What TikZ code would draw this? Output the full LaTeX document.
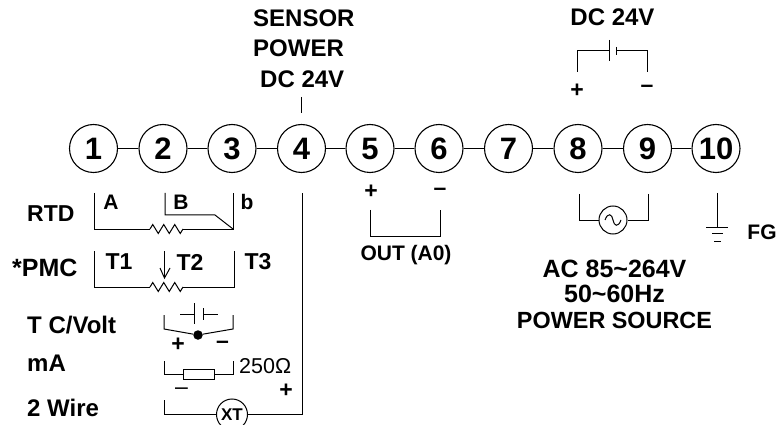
\documentclass[tikz,border=0pt]{standalone}
\usepackage{fontspec}
\setmainfont{Liberation Sans}
\usetikzlibrary{positioning,decorations.pathmorphing}
\tikzset{
  lbl/.style={font=\fontsize{24}{26}\selectfont\bfseries,inner sep=0pt},
  tag/.style={font=\fontsize{21}{23}\selectfont\bfseries,inner sep=0pt},
  sign/.style={font=\fontsize{23}{25}\selectfont\bfseries,inner sep=0pt},
  term/.style={draw,circle,minimum size=48pt,inner sep=0pt,line width=1.1pt,font=\fontsize{31}{33}\selectfont\bfseries},
  wire/.style={line width=1pt},
  zig/.style={wire,decorate,decoration={zigzag,segment length=11pt,amplitude=4.5pt}}
}
\begin{document}
\begin{tikzpicture}[x=1pt,y=-1pt]
    \useasboundingbox (0,0) rectangle (777,425);
    % terminals
    \foreach \n/\x in {1/93.5,2/163,3/232,4/301.5,5/370,6/439,7/508.5,8/578,9/647.5,10/716} {
        \node [term] (t\n) at (\x,148.5) {\n};
    }
    \foreach \a/\b in {1/2,2/3,3/4,4/5,5/6,6/7,7/8,8/9,9/10} {
        \draw [wire] (t\a) -- (t\b);
    }
    % sensor power
    \node [lbl,anchor=west] (sn) at (253,18) {SENSOR};
    \node [lbl,anchor=west] (pw) at (253,48) {POWER};
    \node [lbl,anchor=west] (dc) at (260,79) {DC 24V};
    \coordinate (pu) at (301,97);
    \coordinate (pd) at (301,113);
    \draw [wire] (pu) -- (pd);
    % dc supply
    \node [lbl] (dcb) at (612.5,17) {DC 24V};
    \coordinate (pa) at (577,72);
    \coordinate (pb) at (647,72);
    \coordinate (ba) at (609,51);
    \coordinate (bb) at (616,51);
    \draw [wire] (pa) |- (ba);
    \draw [wire] (pb) |- (bb);
    \draw [wire] (609,40) -- (609,61);
    \draw [wire] (616,47) -- (616,55);
    \node [sign] (pl8) at (577,91) {+};
    \node [sign] (mi9) at (647,89) {--};
    % rtd
    \node [lbl,font=\fontsize{23}{25}\selectfont\bfseries,anchor=west] (rtd) at (27,214) {RTD};
    \node [tag] (la) at (111,202) {A};
    \node [tag] (lb) at (181,202) {B};
    \node [tag] (lsb) at (247,202) {b};
    \coordinate (ra) at (94,193);
    \coordinate (rb) at (165,193);
    \coordinate (rc) at (233,193);
    \coordinate (rl) at (150,229);
    \coordinate (rr) at (183,229);
    \coordinate (rj) at (233,229);
    \draw [wire] (ra) |- (rl);
    \draw [zig] (rl) -- (rr);
    \draw [wire] (rr) -- (rj) -- (rc);
    \draw [wire] (rb) -- (165,215) -- (215,215) -- (rj);
    % pmc
    \node [lbl,font=\fontsize{25}{27}\selectfont\bfseries,anchor=west] (pmc) at (12,268) {*PMC};
    \node [lbl,font=\fontsize{23}{25}\selectfont\bfseries] (t1) at (119,262) {T1};
    \node [lbl,font=\fontsize{23}{25}\selectfont\bfseries] (t2) at (190,262) {T2};
    \node [lbl,font=\fontsize{23}{25}\selectfont\bfseries] (t3) at (258,262) {T3};
    \coordinate (pa1) at (94,251);
    \coordinate (pa3) at (234,251);
    \coordinate (pl) at (150,287);
    \coordinate (pr) at (183,287);
    \draw [wire] (pa1) |- (pl);
    \draw [zig] (pl) -- (pr);
    \draw [wire] (pr) -| (pa3);
    \draw [wire] (164.5,251) -- (164.5,278);
    \draw [wire] (160,268) -- (164.5,278) -- (170,268);
    % t c / volt
    \node [lbl,anchor=west] (tc) at (27,325) {T C/Volt};
    \coordinate (ca) at (164,315);
    \coordinate (cb) at (233,315);
    \node [fill,circle,inner sep=0pt,minimum size=9.5pt] (dot) at (198,335) {};
    \draw [wire] (ca) -- (164,329) -- (dot) -- (233,329) -- (cb);
    \draw [wire] (180,314) -- (194,314);
    \draw [wire] (194,303) -- (194,324);
    \draw [wire] (203,308) -- (203,320);
    \draw [wire] (203,314) -- (218,314);
    \node [sign] (cp) at (178,345) {+};
    \node [sign] (cm) at (222.5,345) {--};
    % ma
    \node [lbl,anchor=west] (ma) at (27,363) {mA};
    \node [draw,wire,minimum width=31pt,minimum height=10pt,inner sep=0pt] (rs) at (199,374) {};
    \draw [wire] (164,361) |- (rs);
    \draw [wire] (233,361) |- (rs);
    \node [font=\fontsize{21.5}{23}\selectfont,inner sep=0pt,anchor=west] (ohm) at (239,366) {250Ω};
    % 2 wire
    \node [lbl,anchor=west] (tw) at (27,408) {2 Wire};
    \node [sign,font=\fontsize{23}{25}\selectfont] (tm) at (181.5,391) {--};
    \node [sign] (tp) at (286,391) {+};
    \node [draw,circle,wire,minimum size=31pt,inner sep=0pt,fill=white,font=\fontsize{17}{19}\selectfont\bfseries] (xt) at (232,414.5) {XT};
    \draw [wire] (164,400) |- (xt);
    \draw [wire] (xt) -- (302,414.5) -- (302,193);
    % out
    \node [sign] (op) at (371,192) {+};
    \node [sign] (om) at (440,192) {--};
    \draw [wire] (370,210) -- (370,236) -- (440,236) -- (440,210);
    \node [tag] (ao) at (406,255) {OUT (A0)};
    % ac
    \node [draw,circle,wire,minimum size=28pt,inner sep=0pt] (ac) at (613,220) {};
    \draw [wire] (579,194) |- (ac);
    \draw [wire] (648,194) |- (ac);
    \draw [wire] (605,220) .. controls (608,212) and (612,214) .. (613,220) .. controls (614,226) and (618,228) .. (621,220);
    \node [lbl,font=\fontsize{25}{27}\selectfont\bfseries] (acv) at (614.5,269) {AC 85\char`~264V};
    \node [lbl,font=\fontsize{25}{27}\selectfont\bfseries] (hz) at (614.5,294) {50\char`~60Hz};
    \node [lbl,font=\fontsize{23.4}{25}\selectfont\bfseries] (src) at (614.5,320) {POWER SOURCE};
    % fg
    \coordinate (fg) at (717,193);
    \coordinate (fg2) at (717,227);
    \draw [wire] (fg) -- (fg2);
    \draw [wire] (706,227) -- (728,227);
    \draw [wire] (712,233) -- (723,233);
    \draw [wire] (714,241) -- (721,241);
    \node [tag] (lfg) at (762,232) {FG};
\end{tikzpicture}
\end{document}
